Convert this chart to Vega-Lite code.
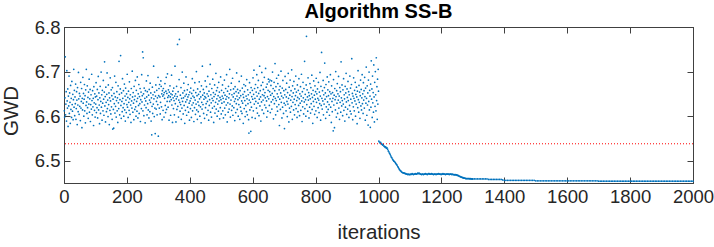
{
"$schema": "https://vega.github.io/schema/vega-lite/v6.json",
"width": 629, "height": 156,
"autosize": {"type": "none"},
"padding": {"left": 64, "top": 27, "right": 21, "bottom": 64},
"background": "white",
"title": {"text": "Algorithm SS-B", "font": "Liberation Sans", "fontSize": 20, "fontWeight": "bold", "color": "#000000", "anchor": "middle", "baseline": "alphabetic", "offset": -19.5},
"config": {
 "view": {"stroke": "#404040", "strokeWidth": 1},
 "axis": {"grid": false, "domainColor": "#404040", "tickColor": "#404040", "labelColor": "#262626", "titleColor": "#262626", "labelFont": "Liberation Sans", "titleFont": "Liberation Sans", "labelFontSize": 18.5, "titleFontSize": 20.5, "titleFontWeight": "normal", "tickSize": -6, "domainWidth": 1, "tickWidth": 1, "labelFlush": false}
},
"resolve": {"axis": {"x": "independent", "y": "independent"}},
"datasets": {"pts": [
{"i":1,"g":6.612},{"i":2,"g":6.598},{"i":3,"g":6.641},{"i":4,"g":6.733},{"i":5,"g":6.603},{"i":6,"g":6.627},{"i":7,"g":6.655},{"i":8,"g":6.589},{"i":9,"g":6.702},{"i":10,"g":6.634},
{"i":11,"g":6.618},{"i":12,"g":6.661},{"i":13,"g":6.577},{"i":14,"g":6.645},{"i":15,"g":6.623},{"i":16,"g":6.690},{"i":17,"g":6.606},{"i":18,"g":6.652},{"i":19,"g":6.631},{"i":20,"g":6.584},
{"i":21,"g":6.669},{"i":22,"g":6.615},{"i":23,"g":6.640},{"i":24,"g":6.597},{"i":25,"g":6.678},{"i":26,"g":6.626},{"i":27,"g":6.611},{"i":28,"g":6.649},{"i":29,"g":6.592},{"i":30,"g":6.637},
{"i":31,"g":6.705},{"i":32,"g":6.620},{"i":33,"g":6.658},{"i":34,"g":6.601},{"i":35,"g":6.643},{"i":36,"g":6.628},{"i":37,"g":6.672},{"i":38,"g":6.593},{"i":39,"g":6.617},{"i":40,"g":6.655},
{"i":41,"g":6.636},{"i":42,"g":6.581},{"i":43,"g":6.664},{"i":44,"g":6.625},{"i":45,"g":6.610},{"i":46,"g":6.698},{"i":47,"g":6.639},{"i":48,"g":6.604},{"i":49,"g":6.651},{"i":50,"g":6.622},
{"i":51,"g":6.645},{"i":52,"g":6.590},{"i":53,"g":6.676},{"i":54,"g":6.618},{"i":55,"g":6.633},{"i":56,"g":6.662},{"i":57,"g":6.574},{"i":58,"g":6.640},{"i":59,"g":6.614},{"i":60,"g":6.687},
{"i":61,"g":6.629},{"i":62,"g":6.651},{"i":63,"g":6.600},{"i":64,"g":6.638},{"i":65,"g":6.671},{"i":66,"g":6.612},{"i":67,"g":6.646},{"i":68,"g":6.585},{"i":69,"g":6.659},{"i":70,"g":6.624},
{"i":71,"g":6.705},{"i":72,"g":6.632},{"i":73,"g":6.606},{"i":74,"g":6.668},{"i":75,"g":6.619},{"i":76,"g":6.642},{"i":77,"g":6.595},{"i":78,"g":6.654},{"i":79,"g":6.627},{"i":80,"g":6.683},
{"i":81,"g":6.609},{"i":82,"g":6.639},{"i":83,"g":6.660},{"i":84,"g":6.588},{"i":85,"g":6.626},{"i":86,"g":6.648},{"i":87,"g":6.616},{"i":88,"g":6.694},{"i":89,"g":6.635},{"i":90,"g":6.603},
{"i":91,"g":6.657},{"i":92,"g":6.621},{"i":93,"g":6.640},{"i":94,"g":6.579},{"i":95,"g":6.666},{"i":96,"g":6.630},{"i":97,"g":6.613},{"i":98,"g":6.650},{"i":99,"g":6.598},{"i":100,"g":6.643},
{"i":101,"g":6.627},{"i":102,"g":6.675},{"i":103,"g":6.608},{"i":104,"g":6.645},{"i":105,"g":6.619},{"i":106,"g":6.660},{"i":107,"g":6.596},{"i":108,"g":6.637},{"i":109,"g":6.689},{"i":110,"g":6.614},
{"i":111,"g":6.652},{"i":112,"g":6.625},{"i":113,"g":6.583},{"i":114,"g":6.641},{"i":115,"g":6.667},{"i":116,"g":6.606},{"i":117,"g":6.633},{"i":118,"g":6.699},{"i":119,"g":6.620},{"i":120,"g":6.648},
{"i":121,"g":6.591},{"i":122,"g":6.658},{"i":123,"g":6.629},{"i":124,"g":6.612},{"i":125,"g":6.680},{"i":126,"g":6.638},{"i":127,"g":6.602},{"i":128,"g":6.654},{"i":129,"g":6.722},{"i":130,"g":6.623},
{"i":131,"g":6.644},{"i":132,"g":6.587},{"i":133,"g":6.665},{"i":134,"g":6.631},{"i":135,"g":6.610},{"i":136,"g":6.649},{"i":137,"g":6.697},{"i":138,"g":6.617},{"i":139,"g":6.636},{"i":140,"g":6.599},
{"i":141,"g":6.670},{"i":142,"g":6.626},{"i":143,"g":6.652},{"i":144,"g":6.581},{"i":145,"g":6.641},{"i":146,"g":6.613},{"i":147,"g":6.686},{"i":148,"g":6.634},{"i":149,"g":6.605},{"i":150,"g":6.659},
{"i":151,"g":6.621},{"i":152,"g":6.646},{"i":153,"g":6.593},{"i":154,"g":6.664},{"i":155,"g":6.571},{"i":156,"g":6.638},{"i":157,"g":6.615},{"i":158,"g":6.573},{"i":159,"g":6.651},{"i":160,"g":6.628},
{"i":161,"g":6.690},{"i":162,"g":6.607},{"i":163,"g":6.643},{"i":164,"g":6.622},{"i":165,"g":6.676},{"i":166,"g":6.598},{"i":167,"g":6.635},{"i":168,"g":6.655},{"i":169,"g":6.612},{"i":170,"g":6.641},
{"i":171,"g":6.586},{"i":172,"g":6.668},{"i":173,"g":6.630},{"i":174,"g":6.617},{"i":175,"g":6.723},{"i":176,"g":6.649},{"i":177,"g":6.603},{"i":178,"g":6.637},{"i":179,"g":6.661},{"i":180,"g":6.736},
{"i":181,"g":6.624},{"i":182,"g":6.595},{"i":183,"g":6.652},{"i":184,"g":6.633},{"i":185,"g":6.610},{"i":186,"g":6.684},{"i":187,"g":6.640},{"i":188,"g":6.619},{"i":189,"g":6.657},{"i":190,"g":6.600},
{"i":191,"g":6.628},{"i":192,"g":6.672},{"i":193,"g":6.614},{"i":194,"g":6.645},{"i":195,"g":6.589},{"i":196,"g":6.663},{"i":197,"g":6.636},{"i":198,"g":6.608},{"i":199,"g":6.650},{"i":200,"g":6.626},
{"i":201,"g":6.694},{"i":202,"g":6.620},{"i":203,"g":6.642},{"i":204,"g":6.597},{"i":205,"g":6.656},{"i":206,"g":6.631},{"i":207,"g":6.613},{"i":208,"g":6.677},{"i":209,"g":6.639},{"i":210,"g":6.604},
{"i":211,"g":6.648},{"i":212,"g":6.625},{"i":213,"g":6.586},{"i":214,"g":6.662},{"i":215,"g":6.634},{"i":216,"g":6.618},{"i":217,"g":6.701},{"i":218,"g":6.643},{"i":219,"g":6.609},{"i":220,"g":6.653},
{"i":221,"g":6.629},{"i":222,"g":6.592},{"i":223,"g":6.667},{"i":224,"g":6.637},{"i":225,"g":6.615},{"i":226,"g":6.645},{"i":227,"g":6.680},{"i":228,"g":6.621},{"i":229,"g":6.600},{"i":230,"g":6.658},
{"i":231,"g":6.633},{"i":232,"g":6.611},{"i":233,"g":6.688},{"i":234,"g":6.640},{"i":235,"g":6.596},{"i":236,"g":6.650},{"i":237,"g":6.624},{"i":238,"g":6.671},{"i":239,"g":6.606},{"i":240,"g":6.644},
{"i":241,"g":6.628},{"i":242,"g":6.662},{"i":243,"g":6.588},{"i":244,"g":6.637},{"i":245,"g":6.654},{"i":246,"g":6.617},{"i":247,"g":6.693},{"i":248,"g":6.632},{"i":249,"g":6.646},{"i":250,"g":6.744},
{"i":251,"g":6.612},{"i":252,"g":6.731},{"i":253,"g":6.650},{"i":254,"g":6.601},{"i":255,"g":6.663},{"i":256,"g":6.625},{"i":257,"g":6.640},{"i":258,"g":6.585},{"i":259,"g":6.657},{"i":260,"g":6.634},
{"i":261,"g":6.619},{"i":262,"g":6.679},{"i":263,"g":6.643},{"i":264,"g":6.603},{"i":265,"g":6.655},{"i":266,"g":6.628},{"i":267,"g":6.691},{"i":268,"g":6.614},{"i":269,"g":6.647},{"i":270,"g":6.596},
{"i":271,"g":6.660},{"i":272,"g":6.636},{"i":273,"g":6.610},{"i":274,"g":6.674},{"i":275,"g":6.631},{"i":276,"g":6.652},{"i":277,"g":6.589},{"i":278,"g":6.641},{"i":279,"g":6.558},{"i":280,"g":6.622},
{"i":281,"g":6.665},{"i":282,"g":6.606},{"i":283,"g":6.648},{"i":284,"g":6.627},{"i":285,"g":6.712},{"i":286,"g":6.639},{"i":287,"g":6.599},{"i":288,"g":6.654},{"i":289,"g":6.618},{"i":290,"g":6.561},
{"i":291,"g":6.645},{"i":292,"g":6.670},{"i":293,"g":6.616},{"i":294,"g":6.633},{"i":295,"g":6.658},{"i":296,"g":6.603},{"i":297,"g":6.641},{"i":298,"g":6.626},{"i":299,"g":6.687},{"i":300,"g":6.555},
{"i":301,"g":6.646},{"i":302,"g":6.662},{"i":303,"g":6.618},{"i":304,"g":6.671},{"i":305,"g":6.643},{"i":306,"g":6.605},{"i":307,"g":6.631},{"i":308,"g":6.679},{"i":309,"g":6.667},{"i":310,"g":6.621},
{"i":311,"g":6.650},{"i":312,"g":6.592},{"i":313,"g":6.657},{"i":314,"g":6.645},{"i":315,"g":6.613},{"i":316,"g":6.662},{"i":317,"g":6.648},{"i":318,"g":6.598},{"i":319,"g":6.653},{"i":320,"g":6.640},
{"i":321,"g":6.673},{"i":322,"g":6.624},{"i":323,"g":6.608},{"i":324,"g":6.656},{"i":325,"g":6.687},{"i":326,"g":6.615},{"i":327,"g":6.651},{"i":328,"g":6.633},{"i":329,"g":6.695},{"i":330,"g":6.642},
{"i":331,"g":6.620},{"i":332,"g":6.659},{"i":333,"g":6.646},{"i":334,"g":6.591},{"i":335,"g":6.654},{"i":336,"g":6.633},{"i":337,"g":6.668},{"i":338,"g":6.643},{"i":339,"g":6.602},{"i":340,"g":6.650},
{"i":341,"g":6.637},{"i":342,"g":6.692},{"i":343,"g":6.625},{"i":344,"g":6.648},{"i":345,"g":6.586},{"i":346,"g":6.656},{"i":347,"g":6.641},{"i":348,"g":6.617},{"i":349,"g":6.663},{"i":350,"g":6.635},
{"i":351,"g":6.603},{"i":352,"g":6.645},{"i":353,"g":6.712},{"i":354,"g":6.628},{"i":355,"g":6.650},{"i":356,"g":6.587},{"i":357,"g":6.639},{"i":358,"g":6.667},{"i":359,"g":6.615},{"i":360,"g":6.644},
{"i":361,"g":6.761},{"i":362,"g":6.622},{"i":363,"g":6.655},{"i":364,"g":6.598},{"i":365,"g":6.636},{"i":366,"g":6.682},{"i":367,"g":6.772},{"i":368,"g":6.631},{"i":369,"g":6.611},{"i":370,"g":6.647},
{"i":371,"g":6.626},{"i":372,"g":6.664},{"i":373,"g":6.593},{"i":374,"g":6.640},{"i":375,"g":6.618},{"i":376,"g":6.699},{"i":377,"g":6.633},{"i":378,"g":6.652},{"i":379,"g":6.605},{"i":380,"g":6.641},
{"i":381,"g":6.674},{"i":382,"g":6.624},{"i":383,"g":6.657},{"i":384,"g":6.584},{"i":385,"g":6.645},{"i":386,"g":6.613},{"i":387,"g":6.632},{"i":388,"g":6.688},{"i":389,"g":6.649},{"i":390,"g":6.602},
{"i":391,"g":6.637},{"i":392,"g":6.659},{"i":393,"g":6.620},{"i":394,"g":6.643},{"i":395,"g":6.671},{"i":396,"g":6.609},{"i":397,"g":6.648},{"i":398,"g":6.629},{"i":399,"g":6.591},{"i":400,"g":6.654},
{"i":401,"g":6.634},{"i":402,"g":6.617},{"i":403,"g":6.663},{"i":404,"g":6.640},{"i":405,"g":6.597},{"i":406,"g":6.651},{"i":407,"g":6.625},{"i":408,"g":6.684},{"i":409,"g":6.612},{"i":410,"g":6.645},
{"i":411,"g":6.630},{"i":412,"g":6.658},{"i":413,"g":6.588},{"i":414,"g":6.642},{"i":415,"g":6.619},{"i":416,"g":6.675},{"i":417,"g":6.636},{"i":418,"g":6.604},{"i":419,"g":6.653},{"i":420,"g":6.627},
{"i":421,"g":6.700},{"i":422,"g":6.614},{"i":423,"g":6.646},{"i":424,"g":6.593},{"i":425,"g":6.661},{"i":426,"g":6.632},{"i":427,"g":6.610},{"i":428,"g":6.649},{"i":429,"g":6.624},{"i":430,"g":6.677},
{"i":431,"g":6.639},{"i":432,"g":6.600},{"i":433,"g":6.655},{"i":434,"g":6.621},{"i":435,"g":6.643},{"i":436,"g":6.585},{"i":437,"g":6.668},{"i":438,"g":6.631},{"i":439,"g":6.616},{"i":440,"g":6.712},
{"i":441,"g":6.647},{"i":442,"g":6.626},{"i":443,"g":6.660},{"i":444,"g":6.606},{"i":445,"g":6.638},{"i":446,"g":6.652},{"i":447,"g":6.595},{"i":448,"g":6.644},{"i":449,"g":6.679},{"i":450,"g":6.619},
{"i":451,"g":6.641},{"i":452,"g":6.628},{"i":453,"g":6.666},{"i":454,"g":6.603},{"i":455,"g":6.650},{"i":456,"g":6.633},{"i":457,"g":6.689},{"i":458,"g":6.613},{"i":459,"g":6.645},{"i":460,"g":6.591},
{"i":461,"g":6.656},{"i":462,"g":6.624},{"i":463,"g":6.637},{"i":464,"g":6.672},{"i":465,"g":6.716},{"i":466,"g":6.609},{"i":467,"g":6.648},{"i":468,"g":6.630},{"i":469,"g":6.598},{"i":470,"g":6.662},
{"i":471,"g":6.640},{"i":472,"g":6.618},{"i":473,"g":6.683},{"i":474,"g":6.635},{"i":475,"g":6.653},{"i":476,"g":6.586},{"i":477,"g":6.644},{"i":478,"g":6.622},{"i":479,"g":6.670},{"i":480,"g":6.607},
{"i":481,"g":6.649},{"i":482,"g":6.631},{"i":483,"g":6.696},{"i":484,"g":6.616},{"i":485,"g":6.657},{"i":486,"g":6.639},{"i":487,"g":6.600},{"i":488,"g":6.664},{"i":489,"g":6.627},{"i":490,"g":6.646},
{"i":491,"g":6.611},{"i":492,"g":6.676},{"i":493,"g":6.634},{"i":494,"g":6.654},{"i":495,"g":6.594},{"i":496,"g":6.642},{"i":497,"g":6.619},{"i":498,"g":6.688},{"i":499,"g":6.637},{"i":500,"g":6.605},
{"i":501,"g":6.658},{"i":502,"g":6.629},{"i":503,"g":6.645},{"i":504,"g":6.670},{"i":505,"g":6.612},{"i":506,"g":6.640},{"i":507,"g":6.596},{"i":508,"g":6.653},{"i":509,"g":6.632},{"i":510,"g":6.681},
{"i":511,"g":6.618},{"i":512,"g":6.647},{"i":513,"g":6.603},{"i":514,"g":6.662},{"i":515,"g":6.638},{"i":516,"g":6.625},{"i":517,"g":6.693},{"i":518,"g":6.644},{"i":519,"g":6.587},{"i":520,"g":6.656},
{"i":521,"g":6.630},{"i":522,"g":6.609},{"i":523,"g":6.667},{"i":524,"g":6.641},{"i":525,"g":6.616},{"i":526,"g":6.650},{"i":527,"g":6.705},{"i":528,"g":6.627},{"i":529,"g":6.598},{"i":530,"g":6.659},
{"i":531,"g":6.636},{"i":532,"g":6.674},{"i":533,"g":6.613},{"i":534,"g":6.648},{"i":535,"g":6.623},{"i":536,"g":6.685},{"i":537,"g":6.602},{"i":538,"g":6.643},{"i":539,"g":6.661},{"i":540,"g":6.619},
{"i":541,"g":6.651},{"i":542,"g":6.633},{"i":543,"g":6.590},{"i":544,"g":6.666},{"i":545,"g":6.639},{"i":546,"g":6.608},{"i":547,"g":6.655},{"i":548,"g":6.628},{"i":549,"g":6.697},{"i":550,"g":6.645},
{"i":551,"g":6.615},{"i":552,"g":6.660},{"i":553,"g":6.637},{"i":554,"g":6.600},{"i":555,"g":6.652},{"i":556,"g":6.626},{"i":557,"g":6.678},{"i":558,"g":6.641},{"i":559,"g":6.593},{"i":560,"g":6.657},
{"i":561,"g":6.620},{"i":562,"g":6.646},{"i":563,"g":6.611},{"i":564,"g":6.690},{"i":565,"g":6.634},{"i":566,"g":6.606},{"i":567,"g":6.663},{"i":568,"g":6.629},{"i":569,"g":6.649},{"i":570,"g":6.584},
{"i":571,"g":6.642},{"i":572,"g":6.671},{"i":573,"g":6.617},{"i":574,"g":6.655},{"i":575,"g":6.635},{"i":576,"g":6.599},{"i":577,"g":6.668},{"i":578,"g":6.624},{"i":579,"g":6.645},{"i":580,"g":6.610},
{"i":581,"g":6.682},{"i":582,"g":6.639},{"i":583,"g":6.603},{"i":584,"g":6.659},{"i":585,"g":6.628},{"i":586,"g":6.648},{"i":587,"g":6.592},{"i":588,"g":6.562},{"i":589,"g":6.636},{"i":590,"g":6.675},
{"i":591,"g":6.614},{"i":592,"g":6.653},{"i":593,"g":6.631},{"i":594,"g":6.566},{"i":595,"g":6.664},{"i":596,"g":6.620},{"i":597,"g":6.644},{"i":598,"g":6.597},{"i":599,"g":6.658},{"i":600,"g":6.638},
{"i":601,"g":6.686},{"i":602,"g":6.612},{"i":603,"g":6.649},{"i":604,"g":6.703},{"i":605,"g":6.627},{"i":606,"g":6.662},{"i":607,"g":6.640},{"i":608,"g":6.595},{"i":609,"g":6.671},{"i":610,"g":6.633},
{"i":611,"g":6.654},{"i":612,"g":6.618},{"i":613,"g":6.693},{"i":614,"g":6.645},{"i":615,"g":6.607},{"i":616,"g":6.664},{"i":617,"g":6.629},{"i":618,"g":6.680},{"i":619,"g":6.651},{"i":620,"g":6.601},
{"i":621,"g":6.638},{"i":622,"g":6.712},{"i":623,"g":6.623},{"i":624,"g":6.657},{"i":625,"g":6.643},{"i":626,"g":6.589},{"i":627,"g":6.669},{"i":628,"g":6.632},{"i":629,"g":6.698},{"i":630,"g":6.614},
{"i":631,"g":6.648},{"i":632,"g":6.676},{"i":633,"g":6.636},{"i":634,"g":6.660},{"i":635,"g":6.606},{"i":636,"g":6.646},{"i":637,"g":6.687},{"i":638,"g":6.625},{"i":639,"g":6.653},{"i":640,"g":6.641},
{"i":641,"g":6.707},{"i":642,"g":6.619},{"i":643,"g":6.665},{"i":644,"g":6.634},{"i":645,"g":6.598},{"i":646,"g":6.672},{"i":647,"g":6.644},{"i":648,"g":6.611},{"i":649,"g":6.658},{"i":650,"g":6.683},
{"i":651,"g":6.639},{"i":652,"g":6.677},{"i":653,"g":6.624},{"i":654,"g":6.655},{"i":655,"g":6.681},{"i":656,"g":6.608},{"i":657,"g":6.647},{"i":658,"g":6.669},{"i":659,"g":6.632},{"i":660,"g":6.679},
{"i":661,"g":6.616},{"i":662,"g":6.651},{"i":663,"g":6.699},{"i":664,"g":6.637},{"i":665,"g":6.662},{"i":666,"g":6.594},{"i":667,"g":6.644},{"i":668,"g":6.676},{"i":669,"g":6.628},{"i":670,"g":6.657},
{"i":671,"g":6.718},{"i":672,"g":6.640},{"i":673,"g":6.603},{"i":674,"g":6.666},{"i":675,"g":6.635},{"i":676,"g":6.685},{"i":677,"g":6.621},{"i":678,"g":6.650},{"i":679,"g":6.611},{"i":680,"g":6.673},
{"i":681,"g":6.643},{"i":682,"g":6.692},{"i":683,"g":6.626},{"i":684,"g":6.659},{"i":685,"g":6.579},{"i":686,"g":6.638},{"i":687,"g":6.667},{"i":688,"g":6.615},{"i":689,"g":6.652},{"i":690,"g":6.701},
{"i":691,"g":6.631},{"i":692,"g":6.645},{"i":693,"g":6.596},{"i":694,"g":6.663},{"i":695,"g":6.620},{"i":696,"g":6.680},{"i":697,"g":6.641},{"i":698,"g":6.606},{"i":699,"g":6.657},{"i":700,"g":6.629},
{"i":701,"g":6.572},{"i":702,"g":6.648},{"i":703,"g":6.689},{"i":704,"g":6.625},{"i":705,"g":6.660},{"i":706,"g":6.612},{"i":707,"g":6.643},{"i":708,"g":6.674},{"i":709,"g":6.633},{"i":710,"g":6.599},
{"i":711,"g":6.653},{"i":712,"g":6.627},{"i":713,"g":6.696},{"i":714,"g":6.640},{"i":715,"g":6.587},{"i":716,"g":6.665},{"i":717,"g":6.618},{"i":718,"g":6.647},{"i":719,"g":6.681},{"i":720,"g":6.609},
{"i":721,"g":6.636},{"i":722,"g":6.657},{"i":723,"g":6.622},{"i":724,"g":6.704},{"i":725,"g":6.644},{"i":726,"g":6.593},{"i":727,"g":6.668},{"i":728,"g":6.631},{"i":729,"g":6.652},{"i":730,"g":6.614},
{"i":731,"g":6.678},{"i":732,"g":6.638},{"i":733,"g":6.603},{"i":734,"g":6.661},{"i":735,"g":6.626},{"i":736,"g":6.646},{"i":737,"g":6.690},{"i":738,"g":6.617},{"i":739,"g":6.654},{"i":740,"g":6.635},
{"i":741,"g":6.597},{"i":742,"g":6.670},{"i":743,"g":6.642},{"i":744,"g":6.610},{"i":745,"g":6.658},{"i":746,"g":6.624},{"i":747,"g":6.684},{"i":748,"g":6.639},{"i":749,"g":6.601},{"i":750,"g":6.650},
{"i":751,"g":6.629},{"i":752,"g":6.666},{"i":753,"g":6.613},{"i":754,"g":6.645},{"i":755,"g":6.694},{"i":756,"g":6.634},{"i":757,"g":6.588},{"i":758,"g":6.655},{"i":759,"g":6.621},{"i":760,"g":6.676},
{"i":761,"g":6.641},{"i":762,"g":6.605},{"i":763,"g":6.662},{"i":764,"g":6.632},{"i":765,"g":6.723},{"i":766,"g":6.617},{"i":767,"g":6.649},{"i":768,"g":6.637},{"i":769,"g":6.600},{"i":770,"g":6.670},
{"i":771,"g":6.779},{"i":772,"g":6.626},{"i":773,"g":6.659},{"i":774,"g":6.643},{"i":775,"g":6.611},{"i":776,"g":6.686},{"i":777,"g":6.636},{"i":778,"g":6.653},{"i":779,"g":6.596},{"i":780,"g":6.646},
{"i":781,"g":6.620},{"i":782,"g":6.673},{"i":783,"g":6.639},{"i":784,"g":6.607},{"i":785,"g":6.664},{"i":786,"g":6.628},{"i":787,"g":6.650},{"i":788,"g":6.692},{"i":789,"g":6.615},{"i":790,"g":6.642},
{"i":791,"g":6.584},{"i":792,"g":6.658},{"i":793,"g":6.633},{"i":794,"g":6.679},{"i":795,"g":6.622},{"i":796,"g":6.647},{"i":797,"g":6.604},{"i":798,"g":6.668},{"i":799,"g":6.638},{"i":800,"g":6.655},
{"i":801,"g":6.612},{"i":802,"g":6.685},{"i":803,"g":6.631},{"i":804,"g":6.650},{"i":805,"g":6.597},{"i":806,"g":6.661},{"i":807,"g":6.640},{"i":808,"g":6.619},{"i":809,"g":6.676},{"i":810,"g":6.636},
{"i":811,"g":6.608},{"i":812,"g":6.654},{"i":813,"g":6.628},{"i":814,"g":6.698},{"i":815,"g":6.645},{"i":816,"g":6.591},{"i":817,"g":6.667},{"i":818,"g":6.624},{"i":819,"g":6.743},{"i":820,"g":6.640},
{"i":821,"g":6.616},{"i":822,"g":6.657},{"i":823,"g":6.634},{"i":824,"g":6.680},{"i":825,"g":6.603},{"i":826,"g":6.648},{"i":827,"g":6.627},{"i":828,"g":6.664},{"i":829,"g":6.719},{"i":830,"g":6.638},
{"i":831,"g":6.652},{"i":832,"g":6.595},{"i":833,"g":6.671},{"i":834,"g":6.621},{"i":835,"g":6.644},{"i":836,"g":6.609},{"i":837,"g":6.688},{"i":838,"g":6.632},{"i":839,"g":6.659},{"i":840,"g":6.615},
{"i":841,"g":6.646},{"i":842,"g":6.677},{"i":843,"g":6.626},{"i":844,"g":6.602},{"i":845,"g":6.655},{"i":846,"g":6.639},{"i":847,"g":6.693},{"i":848,"g":6.620},{"i":849,"g":6.650},{"i":850,"g":6.586},
{"i":851,"g":6.668},{"i":852,"g":6.633},{"i":853,"g":6.610},{"i":854,"g":6.653},{"i":855,"g":6.640},{"i":856,"g":6.567},{"i":857,"g":6.682},{"i":858,"g":6.625},{"i":859,"g":6.647},{"i":860,"g":6.574},
{"i":861,"g":6.662},{"i":862,"g":6.637},{"i":863,"g":6.614},{"i":864,"g":6.700},{"i":865,"g":6.644},{"i":866,"g":6.598},{"i":867,"g":6.657},{"i":868,"g":6.629},{"i":869,"g":6.673},{"i":870,"g":6.606},
{"i":871,"g":6.650},{"i":872,"g":6.636},{"i":873,"g":6.689},{"i":874,"g":6.618},{"i":875,"g":6.645},{"i":876,"g":6.593},{"i":877,"g":6.664},{"i":878,"g":6.631},{"i":879,"g":6.655},{"i":880,"g":6.609},
{"i":881,"g":6.722},{"i":882,"g":6.641},{"i":883,"g":6.623},{"i":884,"g":6.670},{"i":885,"g":6.635},{"i":886,"g":6.601},{"i":887,"g":6.659},{"i":888,"g":6.627},{"i":889,"g":6.684},{"i":890,"g":6.613},
{"i":891,"g":6.648},{"i":892,"g":6.639},{"i":893,"g":6.589},{"i":894,"g":6.667},{"i":895,"g":6.620},{"i":896,"g":6.652},{"i":897,"g":6.696},{"i":898,"g":6.632},{"i":899,"g":6.604},{"i":900,"g":6.661},
{"i":901,"g":6.642},{"i":902,"g":6.616},{"i":903,"g":6.678},{"i":904,"g":6.635},{"i":905,"g":6.655},{"i":906,"g":6.597},{"i":907,"g":6.648},{"i":908,"g":6.624},{"i":909,"g":6.690},{"i":910,"g":6.611},
{"i":911,"g":6.663},{"i":912,"g":6.638},{"i":913,"g":6.605},{"i":914,"g":6.671},{"i":915,"g":6.729},{"i":916,"g":6.630},{"i":917,"g":6.651},{"i":918,"g":6.592},{"i":919,"g":6.645},{"i":920,"g":6.621},
{"i":921,"g":6.686},{"i":922,"g":6.640},{"i":923,"g":6.612},{"i":924,"g":6.658},{"i":925,"g":6.634},{"i":926,"g":6.676},{"i":927,"g":6.600},{"i":928,"g":6.649},{"i":929,"g":6.627},{"i":930,"g":6.665},
{"i":931,"g":6.643},{"i":932,"g":6.583},{"i":933,"g":6.656},{"i":934,"g":6.619},{"i":935,"g":6.702},{"i":936,"g":6.637},{"i":937,"g":6.609},{"i":938,"g":6.669},{"i":939,"g":6.631},{"i":940,"g":6.654},
{"i":941,"g":6.595},{"i":942,"g":6.646},{"i":943,"g":6.681},{"i":944,"g":6.623},{"i":945,"g":6.660},{"i":946,"g":6.614},{"i":947,"g":6.641},{"i":948,"g":6.693},{"i":949,"g":6.628},{"i":950,"g":6.650},
{"i":951,"g":6.606},{"i":952,"g":6.675},{"i":953,"g":6.636},{"i":954,"g":6.657},{"i":955,"g":6.618},{"i":956,"g":6.687},{"i":957,"g":6.644},{"i":958,"g":6.591},{"i":959,"g":6.663},{"i":960,"g":6.629},
{"i":961,"g":6.710},{"i":962,"g":6.640},{"i":963,"g":6.602},{"i":964,"g":6.668},{"i":965,"g":6.625},{"i":966,"g":6.652},{"i":967,"g":6.580},{"i":968,"g":6.681},{"i":969,"g":6.633},{"i":970,"g":6.699},
{"i":971,"g":6.614},{"i":972,"g":6.658},{"i":973,"g":6.645},{"i":974,"g":6.575},{"i":975,"g":6.672},{"i":976,"g":6.620},{"i":977,"g":6.724},{"i":978,"g":6.638},{"i":979,"g":6.661},{"i":980,"g":6.597},
{"i":981,"g":6.690},{"i":982,"g":6.630},{"i":983,"g":6.653},{"i":984,"g":6.609},{"i":985,"g":6.715},{"i":986,"g":6.643},{"i":987,"g":6.587},{"i":988,"g":6.676},{"i":989,"g":6.622},{"i":990,"g":6.700},
{"i":991,"g":6.648},{"i":992,"g":6.612},{"i":993,"g":6.731},{"i":994,"g":6.635},{"i":995,"g":6.666},{"i":996,"g":6.593},{"i":997,"g":6.683},{"i":998,"g":6.627},{"i":999,"g":6.705},{"i":1000,"g":6.656},
{"i":1001,"g":6.544},{"i":1003,"g":6.542},{"i":1005,"g":6.540},{"i":1007,"g":6.541},{"i":1009,"g":6.538},{"i":1011,"g":6.537},{"i":1013,"g":6.535},{"i":1015,"g":6.536},{"i":1017,"g":6.533},{"i":1019,"g":6.532},
{"i":1021,"g":6.530},{"i":1023,"g":6.531},{"i":1025,"g":6.528},{"i":1027,"g":6.529},{"i":1029,"g":6.526},{"i":1031,"g":6.522},{"i":1033,"g":6.520},{"i":1035,"g":6.517},{"i":1037,"g":6.514},{"i":1039,"g":6.511},
{"i":1041,"g":6.508},{"i":1043,"g":6.506},{"i":1045,"g":6.503},{"i":1047,"g":6.501},{"i":1049,"g":6.499},{"i":1051,"g":6.498},{"i":1053,"g":6.496},{"i":1055,"g":6.494},{"i":1057,"g":6.492},{"i":1059,"g":6.490},
{"i":1061,"g":6.487},{"i":1063,"g":6.485},{"i":1065,"g":6.482},{"i":1067,"g":6.480},{"i":1069,"g":6.478},{"i":1071,"g":6.477},{"i":1073,"g":6.475},{"i":1075,"g":6.474},{"i":1077,"g":6.473},{"i":1079,"g":6.473},
{"i":1081,"g":6.472},{"i":1083,"g":6.472},{"i":1085,"g":6.471},{"i":1087,"g":6.471},{"i":1089,"g":6.470},{"i":1091,"g":6.470},{"i":1093,"g":6.469},{"i":1095,"g":6.470},{"i":1097,"g":6.469},{"i":1099,"g":6.469},
{"i":1101,"g":6.470},{"i":1103,"g":6.469},{"i":1105,"g":6.470},{"i":1107,"g":6.471},{"i":1109,"g":6.470},{"i":1111,"g":6.469},{"i":1113,"g":6.470},{"i":1115,"g":6.470},{"i":1117,"g":6.471},{"i":1119,"g":6.470},
{"i":1121,"g":6.470},{"i":1123,"g":6.471},{"i":1125,"g":6.472},{"i":1127,"g":6.471},{"i":1129,"g":6.472},{"i":1131,"g":6.471},{"i":1133,"g":6.470},{"i":1135,"g":6.470},{"i":1137,"g":6.469},{"i":1139,"g":6.470},
{"i":1141,"g":6.470},{"i":1143,"g":6.469},{"i":1145,"g":6.470},{"i":1147,"g":6.470},{"i":1149,"g":6.471},{"i":1151,"g":6.470},{"i":1153,"g":6.470},{"i":1155,"g":6.469},{"i":1157,"g":6.470},{"i":1159,"g":6.471},
{"i":1161,"g":6.471},{"i":1163,"g":6.470},{"i":1165,"g":6.470},{"i":1167,"g":6.470},{"i":1169,"g":6.471},{"i":1171,"g":6.470},{"i":1173,"g":6.470},{"i":1175,"g":6.469},{"i":1177,"g":6.470},{"i":1179,"g":6.470},
{"i":1181,"g":6.470},{"i":1183,"g":6.469},{"i":1185,"g":6.470},{"i":1187,"g":6.470},{"i":1189,"g":6.470},{"i":1191,"g":6.471},{"i":1193,"g":6.470},{"i":1195,"g":6.470},{"i":1197,"g":6.470},{"i":1199,"g":6.469},
{"i":1201,"g":6.470},{"i":1203,"g":6.470},{"i":1205,"g":6.471},{"i":1207,"g":6.470},{"i":1209,"g":6.470},{"i":1211,"g":6.470},{"i":1213,"g":6.469},{"i":1215,"g":6.470},{"i":1217,"g":6.470},{"i":1219,"g":6.470},
{"i":1221,"g":6.470},{"i":1223,"g":6.470},{"i":1225,"g":6.469},{"i":1227,"g":6.470},{"i":1229,"g":6.470},{"i":1231,"g":6.470},{"i":1233,"g":6.469},{"i":1235,"g":6.470},{"i":1237,"g":6.469},{"i":1239,"g":6.469},
{"i":1241,"g":6.469},{"i":1243,"g":6.468},{"i":1245,"g":6.469},{"i":1247,"g":6.468},{"i":1249,"g":6.468},{"i":1251,"g":6.467},{"i":1253,"g":6.467},{"i":1255,"g":6.466},{"i":1257,"g":6.465},{"i":1259,"g":6.465},
{"i":1261,"g":6.464},{"i":1263,"g":6.463},{"i":1265,"g":6.463},{"i":1267,"g":6.462},{"i":1269,"g":6.462},{"i":1271,"g":6.461},{"i":1273,"g":6.461},{"i":1275,"g":6.461},{"i":1277,"g":6.460},{"i":1279,"g":6.460},
{"i":1281,"g":6.460},{"i":1283,"g":6.460},{"i":1285,"g":6.460},{"i":1287,"g":6.460},{"i":1289,"g":6.460},{"i":1291,"g":6.459},{"i":1293,"g":6.460},{"i":1295,"g":6.459},{"i":1297,"g":6.459},{"i":1299,"g":6.459},
{"i":1300,"g":6.459},{"i":1305,"g":6.459},{"i":1310,"g":6.459},{"i":1315,"g":6.459},{"i":1320,"g":6.459},{"i":1325,"g":6.459},{"i":1330,"g":6.459},{"i":1335,"g":6.459},{"i":1340,"g":6.459},{"i":1345,"g":6.459},
{"i":1350,"g":6.458},{"i":1355,"g":6.458},{"i":1360,"g":6.458},{"i":1365,"g":6.458},{"i":1370,"g":6.458},{"i":1375,"g":6.458},{"i":1380,"g":6.458},{"i":1385,"g":6.458},{"i":1390,"g":6.458},{"i":1395,"g":6.457},
{"i":1400,"g":6.456},{"i":1405,"g":6.456},{"i":1410,"g":6.456},{"i":1415,"g":6.456},{"i":1420,"g":6.456},{"i":1425,"g":6.456},{"i":1430,"g":6.456},{"i":1435,"g":6.456},{"i":1440,"g":6.456},{"i":1445,"g":6.456},
{"i":1450,"g":6.456},{"i":1455,"g":6.456},{"i":1460,"g":6.456},{"i":1465,"g":6.456},{"i":1470,"g":6.456},{"i":1475,"g":6.456},{"i":1480,"g":6.456},{"i":1485,"g":6.456},{"i":1490,"g":6.456},{"i":1495,"g":6.456},
{"i":1500,"g":6.455},{"i":1505,"g":6.455},{"i":1510,"g":6.455},{"i":1515,"g":6.455},{"i":1520,"g":6.455},{"i":1525,"g":6.455},{"i":1530,"g":6.455},{"i":1535,"g":6.455},{"i":1540,"g":6.455},{"i":1545,"g":6.455},
{"i":1550,"g":6.455},{"i":1555,"g":6.455},{"i":1560,"g":6.455},{"i":1565,"g":6.455},{"i":1570,"g":6.455},{"i":1575,"g":6.455},{"i":1580,"g":6.455},{"i":1585,"g":6.455},{"i":1590,"g":6.455},{"i":1595,"g":6.455},
{"i":1600,"g":6.455},{"i":1605,"g":6.455},{"i":1610,"g":6.455},{"i":1615,"g":6.455},{"i":1620,"g":6.455},{"i":1625,"g":6.455},{"i":1630,"g":6.455},{"i":1635,"g":6.455},{"i":1640,"g":6.455},{"i":1645,"g":6.455},
{"i":1650,"g":6.455},{"i":1655,"g":6.455},{"i":1660,"g":6.455},{"i":1665,"g":6.455},{"i":1670,"g":6.455},{"i":1675,"g":6.455},{"i":1680,"g":6.455},{"i":1685,"g":6.455},{"i":1690,"g":6.455},{"i":1695,"g":6.455},
{"i":1700,"g":6.454},{"i":1705,"g":6.454},{"i":1710,"g":6.454},{"i":1715,"g":6.454},{"i":1720,"g":6.454},{"i":1725,"g":6.454},{"i":1730,"g":6.454},{"i":1735,"g":6.454},{"i":1740,"g":6.454},{"i":1745,"g":6.454},
{"i":1750,"g":6.454},{"i":1755,"g":6.454},{"i":1760,"g":6.454},{"i":1765,"g":6.454},{"i":1770,"g":6.454},{"i":1775,"g":6.454},{"i":1780,"g":6.454},{"i":1785,"g":6.454},{"i":1790,"g":6.454},{"i":1795,"g":6.454},
{"i":1800,"g":6.454},{"i":1805,"g":6.454},{"i":1810,"g":6.454},{"i":1815,"g":6.454},{"i":1820,"g":6.454},{"i":1825,"g":6.454},{"i":1830,"g":6.454},{"i":1835,"g":6.454},{"i":1840,"g":6.454},{"i":1845,"g":6.454},
{"i":1850,"g":6.454},{"i":1855,"g":6.454},{"i":1860,"g":6.454},{"i":1865,"g":6.454},{"i":1870,"g":6.454},{"i":1875,"g":6.454},{"i":1880,"g":6.454},{"i":1885,"g":6.454},{"i":1890,"g":6.454},{"i":1895,"g":6.454},
{"i":1900,"g":6.454},{"i":1905,"g":6.454},{"i":1910,"g":6.454},{"i":1915,"g":6.454},{"i":1920,"g":6.454},{"i":1925,"g":6.454},{"i":1930,"g":6.454},{"i":1935,"g":6.454},{"i":1940,"g":6.454},{"i":1945,"g":6.454},
{"i":1950,"g":6.454},{"i":1955,"g":6.454},{"i":1960,"g":6.454},{"i":1965,"g":6.454},{"i":1970,"g":6.454},{"i":1975,"g":6.454},{"i":1980,"g":6.454},{"i":1985,"g":6.454},{"i":1990,"g":6.454},{"i":1995,"g":6.454},{"i":2000,"g":6.454}
]},
"layer": [
 {"data": {"name": "pts"},
  "mark": {"type": "circle", "size": 3, "color": "#0072BD", "opacity": 1},
  "encoding": {
   "x": {"field": "i", "type": "quantitative", "scale": {"domain": [0, 2000], "nice": false, "zero": false},
         "axis": {"orient": "bottom", "values": [0,200,400,600,800,1000,1200,1400,1600,1800,2000], "format": "d", "labelOverlap": false, "labelPadding": 10, "title": "iterations", "titleX": 314.5, "titleY": 55.5, "titleBaseline": "alphabetic", "titleAlign": "center"}},
   "y": {"field": "g", "type": "quantitative", "scale": {"domain": [6.45, 6.8], "nice": false, "zero": false},
         "axis": {"orient": "left", "values": [6.5, 6.6, 6.7, 6.8], "format": ".1f", "labelPadding": 10, "title": "GWD", "titleX": -47, "titleY": 83.5, "titleAngle": -90, "titleBaseline": "alphabetic", "titleAlign": "center"}}
  }},
 {"data": {"values": [{"v": 6.538}]},
  "mark": {"type": "rule", "color": "#ff0000", "strokeDash": [1, 2], "strokeWidth": 1},
  "encoding": {"y": {"field": "v", "type": "quantitative", "axis": null}}},
 {"data": {"values": [{"a": 0, "b": 6.5}]},
  "mark": {"type": "point", "opacity": 0},
  "encoding": {
   "x": {"field": "a", "type": "quantitative", "axis": {"orient": "top", "values": [0,200,400,600,800,1000,1200,1400,1600,1800,2000], "labels": false, "title": null}},
   "y": {"field": "b", "type": "quantitative", "axis": {"orient": "right", "values": [6.5, 6.6, 6.7, 6.8], "labels": false, "title": null}}
  }}
]
}
